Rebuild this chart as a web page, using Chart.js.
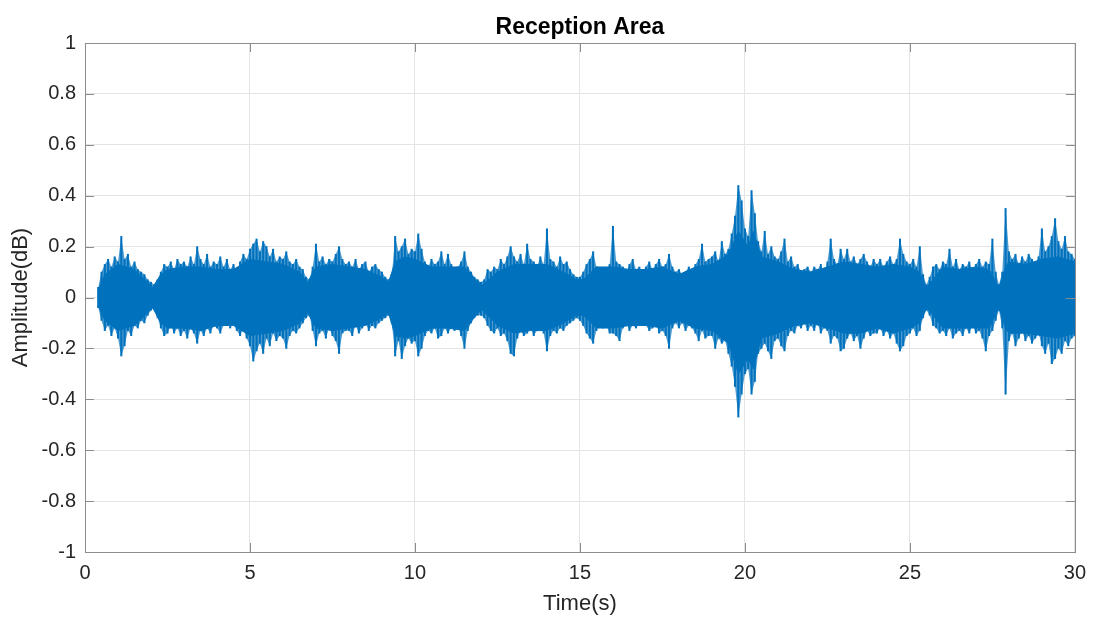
<!DOCTYPE html>
<html>
<head>
<meta charset="utf-8">
<script src="https://cdn.jsdelivr.net/npm/chart.js@4.4.1/dist/chart.umd.min.js"></script>
<style>
    html, body { margin: 0; padding: 0; background: #fff; }
    #wrap { width: 1095px; height: 617px; }
</style>
</head>
<body>
<div id="wrap"><canvas id="onda"></canvas></div>
<script>
// peaks of the waveform, one value every 0.1 s starting at 0.4 s
const inicio = 0.4;
const paso = 0.1;

const picoSuperior = [
    0.04, 0.10, 0.13, 0.15, 0.12, 0.16,
    0.14, 0.24, 0.15, 0.17, 0.12, 0.14, 0.11, 0.10, 0.09, 0.07,
    0.06, 0.05, 0.07, 0.10, 0.13, 0.12, 0.14, 0.11, 0.15, 0.13,
    0.14, 0.12, 0.16, 0.13, 0.20, 0.15, 0.13, 0.17, 0.12, 0.14,
    0.13, 0.16, 0.12, 0.15, 0.11, 0.13, 0.10, 0.14, 0.17, 0.15,
    0.19, 0.21, 0.23, 0.18, 0.22, 0.20, 0.16, 0.19, 0.14, 0.16,
    0.15, 0.18, 0.14, 0.13, 0.15, 0.12, 0.11, 0.08, 0.07, 0.12,
    0.21, 0.14, 0.16, 0.13, 0.15, 0.14, 0.17, 0.20, 0.15, 0.13,
    0.14, 0.12, 0.15, 0.11, 0.13, 0.14, 0.10, 0.12, 0.13, 0.11,
    0.10, 0.08, 0.07, 0.09, 0.24, 0.18, 0.20, 0.23, 0.17, 0.19,
    0.18, 0.25, 0.19, 0.14, 0.12, 0.15, 0.13, 0.14, 0.18, 0.13,
    0.17, 0.13, 0.11, 0.12, 0.14, 0.18, 0.12, 0.10, 0.08, 0.07,
    0.06, 0.07, 0.11, 0.10, 0.12, 0.11, 0.15, 0.13, 0.16, 0.20,
    0.16, 0.14, 0.17, 0.13, 0.21, 0.15, 0.14, 0.12, 0.16, 0.13,
    0.27, 0.15, 0.14, 0.12, 0.16, 0.13, 0.14, 0.11, 0.09, 0.08,
    0.08, 0.10, 0.13, 0.15, 0.18, 0.12, 0.10, 0.09, 0.11, 0.13,
    0.28, 0.14, 0.13, 0.12, 0.10, 0.13, 0.15, 0.11, 0.12, 0.10,
    0.12, 0.14, 0.11, 0.13, 0.15, 0.12, 0.13, 0.17, 0.12, 0.10,
    0.11, 0.09, 0.10, 0.12, 0.10, 0.13, 0.15, 0.21, 0.14, 0.15,
    0.16, 0.18, 0.14, 0.22, 0.17, 0.19, 0.25, 0.32, 0.44, 0.38,
    0.27, 0.24, 0.42, 0.33, 0.22, 0.18, 0.26, 0.17, 0.20, 0.16,
    0.15, 0.18, 0.23, 0.14, 0.16, 0.12, 0.13, 0.10, 0.11, 0.12,
    0.10, 0.12, 0.11, 0.13, 0.09, 0.14, 0.23, 0.15, 0.13, 0.19,
    0.15, 0.19, 0.14, 0.16, 0.13, 0.15, 0.17, 0.14, 0.12, 0.15,
    0.13, 0.15, 0.12, 0.14, 0.16, 0.13, 0.15, 0.23, 0.17, 0.14,
    0.13, 0.15, 0.12, 0.20, 0.09, 0.05, 0.08, 0.12, 0.13, 0.11,
    0.14, 0.13, 0.19, 0.12, 0.15, 0.11, 0.13, 0.12, 0.14, 0.10,
    0.13, 0.15, 0.12, 0.14, 0.13, 0.23, 0.10, 0.05, 0.10, 0.35,
    0.18, 0.15, 0.17, 0.13, 0.16, 0.14, 0.17, 0.15, 0.13, 0.16,
    0.27, 0.18, 0.20, 0.24, 0.31, 0.22, 0.19, 0.24, 0.18, 0.17, 0.15
];

const picoInferior = [
    -0.04, -0.09, -0.13, -0.11, -0.15, -0.12,
    -0.16, -0.23, -0.19, -0.13, -0.15, -0.11, -0.12, -0.09, -0.10, -0.07,
    -0.05, -0.04, -0.08, -0.12, -0.15, -0.14, -0.11, -0.14, -0.12, -0.15,
    -0.13, -0.16, -0.12, -0.14, -0.18, -0.13, -0.15, -0.12, -0.14, -0.11,
    -0.12, -0.14, -0.11, -0.09, -0.12, -0.10, -0.13, -0.15, -0.12, -0.16,
    -0.19, -0.25, -0.21, -0.18, -0.22, -0.16, -0.19, -0.14, -0.17, -0.15,
    -0.16, -0.20, -0.15, -0.13, -0.14, -0.12, -0.10, -0.08, -0.07, -0.13,
    -0.19, -0.14, -0.13, -0.16, -0.12, -0.15, -0.17, -0.22, -0.14, -0.13,
    -0.13, -0.15, -0.11, -0.14, -0.12, -0.10, -0.13, -0.11, -0.12, -0.10,
    -0.09, -0.08, -0.07, -0.10, -0.23, -0.17, -0.24, -0.19, -0.16, -0.18,
    -0.17, -0.23, -0.20, -0.15, -0.13, -0.14, -0.12, -0.16, -0.15, -0.12,
    -0.14, -0.12, -0.13, -0.11, -0.15, -0.20, -0.13, -0.10, -0.08, -0.07,
    -0.07, -0.08, -0.11, -0.13, -0.14, -0.12, -0.15, -0.14, -0.17, -0.22,
    -0.23, -0.16, -0.13, -0.15, -0.14, -0.12, -0.15, -0.13, -0.11, -0.14,
    -0.21, -0.15, -0.13, -0.14, -0.12, -0.13, -0.11, -0.10, -0.09, -0.08,
    -0.09, -0.11, -0.14, -0.16, -0.18, -0.13, -0.10, -0.12, -0.11, -0.14,
    -0.14, -0.15, -0.17, -0.12, -0.10, -0.13, -0.11, -0.12, -0.10, -0.11,
    -0.11, -0.13, -0.12, -0.10, -0.14, -0.13, -0.15, -0.20, -0.12, -0.10,
    -0.12, -0.10, -0.13, -0.11, -0.12, -0.14, -0.17, -0.13, -0.16, -0.15,
    -0.15, -0.20, -0.16, -0.18, -0.17, -0.22, -0.27, -0.35, -0.47, -0.38,
    -0.30, -0.28, -0.38, -0.33, -0.22, -0.20, -0.18, -0.21, -0.24, -0.17,
    -0.16, -0.19, -0.21, -0.15, -0.13, -0.14, -0.11, -0.12, -0.10, -0.13,
    -0.11, -0.13, -0.10, -0.14, -0.12, -0.13, -0.18, -0.15, -0.16, -0.21,
    -0.20, -0.16, -0.14, -0.17, -0.15, -0.20, -0.16, -0.13, -0.15, -0.14,
    -0.14, -0.12, -0.15, -0.13, -0.16, -0.14, -0.18, -0.21, -0.19, -0.15,
    -0.14, -0.12, -0.15, -0.13, -0.08, -0.05, -0.07, -0.11, -0.12, -0.14,
    -0.13, -0.15, -0.12, -0.16, -0.14, -0.13, -0.15, -0.12, -0.14, -0.11,
    -0.14, -0.13, -0.16, -0.21, -0.15, -0.13, -0.09, -0.05, -0.12, -0.38,
    -0.17, -0.14, -0.19, -0.16, -0.13, -0.17, -0.15, -0.18, -0.16, -0.14,
    -0.19, -0.22, -0.18, -0.26, -0.24, -0.20, -0.22, -0.17, -0.19, -0.16, -0.15
];

// dense solid core of the waveform, read at the times where its width changes
const nucleoTiempo = [
    0.4, 0.6, 1.0, 1.5, 1.9, 2.05, 2.3, 2.5, 3.0, 3.5,
    4.0, 4.5, 5.0, 5.5, 6.0, 6.5, 6.75, 7.0, 7.5, 8.0,
    8.5, 9.0, 9.2, 9.4, 9.7, 10.0, 10.5, 11.0, 11.5, 11.9,
    12.05, 12.5, 13.0, 13.5, 14.0, 14.5, 14.9, 15.1, 15.5, 16.0,
    16.5, 17.0, 17.5, 18.0, 18.5, 19.0, 19.5, 19.8, 20.1, 20.25,
    20.5, 21.0, 21.5, 22.0, 22.5, 23.0, 23.5, 24.0, 24.5, 25.0,
    25.3, 25.5, 25.7, 26.0, 26.5, 27.0, 27.4, 27.7, 27.9, 28.0,
    28.5, 29.0, 29.5, 30.0
];

const nucleoSuperior = [
    0.03, 0.09, 0.13, 0.11, 0.06, 0.04, 0.09, 0.11, 0.12, 0.12,
    0.11, 0.11, 0.15, 0.14, 0.13, 0.10, 0.06, 0.12, 0.13, 0.12,
    0.11, 0.08, 0.06, 0.14, 0.16, 0.15, 0.12, 0.12, 0.12, 0.06,
    0.05, 0.10, 0.13, 0.13, 0.13, 0.10, 0.07, 0.07, 0.12, 0.12,
    0.11, 0.11, 0.12, 0.09, 0.12, 0.13, 0.17, 0.26, 0.20, 0.26,
    0.16, 0.14, 0.11, 0.10, 0.12, 0.14, 0.13, 0.12, 0.13, 0.12,
    0.10, 0.04, 0.07, 0.12, 0.11, 0.12, 0.11, 0.04, 0.12, 0.14,
    0.13, 0.15, 0.16, 0.14
];

const nucleoInferior = [
    -0.03, -0.09, -0.13, -0.11, -0.06, -0.04, -0.10, -0.12, -0.12, -0.13,
    -0.11, -0.11, -0.15, -0.14, -0.13, -0.10, -0.06, -0.12, -0.13, -0.12,
    -0.11, -0.08, -0.06, -0.15, -0.16, -0.15, -0.12, -0.12, -0.13, -0.06,
    -0.05, -0.11, -0.14, -0.13, -0.13, -0.10, -0.07, -0.07, -0.12, -0.12,
    -0.11, -0.11, -0.12, -0.09, -0.12, -0.13, -0.18, -0.30, -0.24, -0.28,
    -0.16, -0.14, -0.11, -0.10, -0.12, -0.14, -0.14, -0.12, -0.14, -0.12,
    -0.10, -0.04, -0.07, -0.12, -0.12, -0.12, -0.12, -0.04, -0.12, -0.14,
    -0.14, -0.15, -0.16, -0.14
];

const ticksX = [0, 5, 10, 15, 20, 25, 30];
const ticksY = [-1, -0.8, -0.6, -0.4, -0.2, 0, 0.2, 0.4, 0.6, 0.8, 1];

const azul = '#0072BD';
const azulSuave = 'rgba(0, 114, 189, 0.7)';
const textoColor = '#262626';
const fuente = '"Liberation Sans", Arial, sans-serif';

function tiempo(i) {
    return Math.round((inicio + i * paso) * 10) / 10;
}

function puntosPico(valores) {
    var res = [];
    for (var i = 0; i < valores.length; i++) {
        res.push({ x: tiempo(i), y: valores[i] });
    }
    return res;
}

function puntosNucleo(valores) {
    var res = [];
    for (var i = 0; i < valores.length; i++) {
        res.push({ x: nucleoTiempo[i], y: valores[i] });
    }
    return res;
}

function barras() {
    var res = [];
    for (var i = 0; i < picoSuperior.length; i++) {
        res.push({ x: tiempo(i), y: [picoInferior[i], picoSuperior[i]] });
    }
    return res;
}

// MATLAB style box, inner tick marks and title
const cajaMatlab = {
    id: 'cajaMatlab',
    afterDraw(chart) {
        const ctx = chart.ctx;
        const a = chart.chartArea;
        const sx = chart.scales.x;
        const sy = chart.scales.y;
        const largo = 9;
        ctx.save();
        ctx.strokeStyle = '#8c8c8c';
        ctx.lineWidth = 1;
        ctx.beginPath();
        ticksX.forEach(function (v) {
            var px = Math.round(sx.getPixelForValue(v)) + 0.5;
            ctx.moveTo(px, a.bottom);
            ctx.lineTo(px, a.bottom - largo);
            ctx.moveTo(px, a.top);
            ctx.lineTo(px, a.top + largo);
        });
        ticksY.forEach(function (v) {
            var py = Math.round(sy.getPixelForValue(v)) + 0.5;
            ctx.moveTo(a.left, py);
            ctx.lineTo(a.left + largo, py);
            ctx.moveTo(a.right, py);
            ctx.lineTo(a.right - largo, py);
        });
        ctx.stroke();
        ctx.strokeRect(Math.round(a.left) + 0.5, Math.round(a.top) + 0.5,
            Math.round(a.right - a.left), Math.round(a.bottom - a.top));

        ctx.fillStyle = '#000';
        ctx.font = 'bold 23px ' + fuente;
        ctx.textAlign = 'center';
        ctx.textBaseline = 'alphabetic';
        ctx.fillText('Reception Area', (a.left + a.right) / 2, a.top - 9);
        ctx.restore();
    }
};

const ctx = document.getElementById('onda').getContext('2d');
const grafica = new Chart(ctx, {
    type: 'line',
    data: {
        datasets: [{
            label: 'envolvente superior',
            data: puntosPico(picoSuperior),
            borderWidth: 0,
            backgroundColor: azulSuave,
            pointRadius: 0,
            tension: 0,
            fill: '+1',
            order: 3
        },
        {
            label: 'envolvente inferior',
            data: puntosPico(picoInferior),
            borderWidth: 0,
            pointRadius: 0,
            tension: 0,
            fill: false,
            order: 3
        },
        {
            type: 'bar',
            label: 'picos',
            data: barras(),
            backgroundColor: azul,
            barThickness: 1.4,
            order: 2
        },
        {
            label: 'nucleo superior',
            data: puntosNucleo(nucleoSuperior),
            borderColor: azul,
            backgroundColor: azul,
            borderWidth: 1,
            pointRadius: 0,
            tension: 0,
            fill: '+1',
            order: 1
        },
        {
            label: 'nucleo inferior',
            data: puntosNucleo(nucleoInferior),
            borderColor: azul,
            borderWidth: 1,
            pointRadius: 0,
            tension: 0,
            fill: false,
            order: 1
        }]
    },
    options: {
        responsive: true,
        maintainAspectRatio: false,
        animation: false,
        layout: {
            padding: { left: 0, right: 20, top: 43, bottom: 0 }
        },
        plugins: {
            legend: { display: false },
            tooltip: { enabled: false },
            title: { display: false }
        },
        scales: {
            x: {
                type: 'linear',
                min: 0,
                max: 30,
                offset: false,
                afterBuildTicks: function (s) { s.ticks = ticksX.map(function (v) { return { value: v }; }); },
                afterFit: function (s) { s.height = 65; },
                border: { display: false },
                grid: { color: '#e4e4e4', drawTicks: false, offset: false },
                ticks: {
                    color: textoColor,
                    padding: 9,
                    maxRotation: 0,
                    font: { family: fuente, size: 20 }
                },
                title: {
                    display: true,
                    text: 'Time(s)',
                    color: textoColor,
                    padding: { top: 0, bottom: 0 },
                    font: { family: fuente, size: 22 }
                }
            },
            y: {
                min: -1,
                max: 1,
                afterBuildTicks: function (s) { s.ticks = ticksY.map(function (v) { return { value: v }; }); },
                afterFit: function (s) { s.width = 85; },
                border: { display: false },
                grid: { color: '#e4e4e4', drawTicks: false },
                ticks: {
                    color: textoColor,
                    padding: 9,
                    font: { family: fuente, size: 20 },
                    callback: function (v) { return String(Math.round(v * 10) / 10); }
                },
                title: {
                    display: true,
                    text: 'Amplitude(dB)',
                    color: textoColor,
                    padding: { top: 8, bottom: 0 },
                    font: { family: fuente, size: 22 }
                }
            }
        }
    },
    plugins: [cajaMatlab]
});
</script>
</body>
</html>
